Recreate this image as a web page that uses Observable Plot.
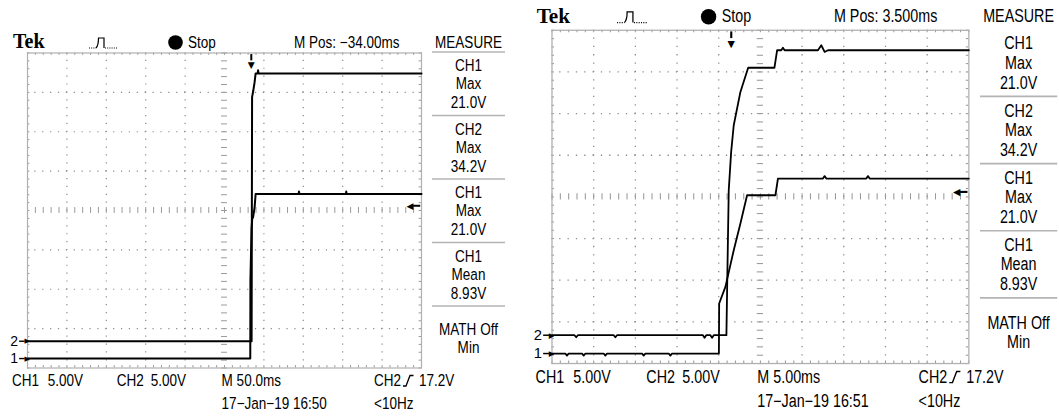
<!DOCTYPE html>
<html><head><meta charset="utf-8">
<script src="https://cdn.jsdelivr.net/npm/d3@7"></script>
<script src="https://cdn.jsdelivr.net/npm/@observablehq/plot@0.6"></script>
<style>
html,body{margin:0;padding:0;background:#fff;width:1059px;height:417px;overflow:hidden;position:relative;}
.scope{position:absolute;left:0;top:0;width:530px;height:420px;transform-origin:0 0;}
.scope svg{position:absolute;left:0;top:0;}
</style></head>
<body>
<div id="left" class="scope"></div>
<div id="right" class="scope" style="transform:translate(522.9px,-25.8px) scale(1.058);"></div>
<script>
// ---------- data (times in ms relative to trigger, values in volts) ----------
const leftCh1Time = [-284, -1.3, -1.1, 0.3, 1.3, 2.2, 4.2, 5.5, 60, 60.5, 61, 120, 120.5, 121, 216];
const leftCh1Volt = [0, 0, 9.9, 16.5, 17.9, 17.9, 19.2, 20.9, 20.9, 21.2, 20.9, 20.9, 21.2, 20.9, 20.9];
const leftCh2Time = [-284, 0.4, 1.0, 2.5, 4.2, 5.5, 8.0, 8.6, 9.2, 216];
const leftCh2Volt = [0, 0, 31.0, 31.8, 32.9, 34.0, 34.0, 34.4, 34.0, 34.0];

const rightCh1Time = [-21.5, -19.9, -19.7, -19.5, -17.9, -17.7, -17.5, -15.3, -15.1, -14.9, -10.7, -10.5, -10.3, -7.5, -7.3, -7.1, -1.48, -1.45, -0.70, 0.30, 1.10, 1.90, 5.30, 5.60, 11.0, 11.2, 11.4, 16.2, 16.4, 16.6, 28.5];
const rightCh1Volt = [0, 0, -0.25, 0, 0, -0.25, 0, 0, -0.25, 0, 0, -0.25, 0, 0, -0.25, 0, 0, 6.0, 8.0, 12.4, 15.6, 19.0, 19.0, 21.0, 21.0, 21.3, 21.0, 21.0, 21.3, 21.0, 21.0];
const rightCh2Time = [-21.5, -18.8, -18.6, -18.4, -14.1, -13.9, -13.7, -3.4, -3.2, -3.0, -2.5, -2.3, -2.1, -0.58, -0.49, -0.30, -0.01, 0.30, 1.10, 2.03, 5.18, 5.50, 6.0, 6.2, 6.4, 10.4, 10.8, 11.2, 11.6, 28.5];
const rightCh2Volt = [0, 0, -0.25, 0, 0, -0.25, 0, 0, -0.3, 0, 0, -0.3, 0, 0, 5.8, 17.4, 22.0, 25.2, 29.2, 32.1, 32.1, 34.2, 34.2, 34.5, 34.2, 34.2, 34.8, 34.0, 34.2, 34.2];

const channelNames = ["1", "2"];
const voltsPerDiv = [5, 5];
const groundDiv = [-3.76, -3.32];      // channel ground markers, divisions from centre
const triggerLevel = 17.2;             // CH2 rising edge
const leftTiming = {msPerDiv: 50, mpos: -34};
const rightTiming = {msPerDiv: 5, mpos: 3.5};

const leftHeader = ["Tek", "Stop", "M Pos: \u221234.00ms", "MEASURE"];
const rightHeader = ["Tek", "Stop", "M Pos: 3.500ms", "MEASURE"];
const measureBlocks = [["CH1", "Max", "21.0V"], ["CH2", "Max", "34.2V"], ["CH1", "Max", "21.0V"], ["CH1", "Mean", "8.93V"], ["MATH Off", "Min"]];
const leftFooter = ["CH1", "5.00V", "CH2", "5.00V", "M 50.0ms", "CH2", "17.2V", "17\u2212Jan\u221219 16:50", "<10Hz"];
const rightFooter = ["CH1", "5.00V", "CH2", "5.00V", "M 5.00ms", "CH2", "17.2V", "17\u2212Jan\u221219 16:51", "<10Hz"];

// ---------- drawing ----------
const FONT = '"Liberation Sans",Arial,sans-serif';
const SYM = '"DejaVu Sans",sans-serif';
const PXDIV = 39.4;
const NARROW = 0.82;

function toDiv(v, ch) { return v / voltsPerDiv[ch] + groundDiv[ch]; }

function scope(timing, ch1t, ch1v, ch2t, ch2v, lineW) {
  const tc = timing.mpos, md = timing.msPerDiv;
  const t0 = tc - 5 * md, t1 = tc + 5 * md;
  const minorT = d3.range(-25, 26).map(k => tc + k * md / 5);
  const minorY = d3.range(-20, 21).map(k => k / 5);
  const majorT = [-4, -3, -2, -1, 1, 2, 3, 4].map(k => tc + k * md);
  const majorY = [-3, -2, -1, 1, 2, 3];
  const tk = 0.075;
  const mp = PXDIV / 5;
  const dots = {stroke: "#8a8a8a", strokeWidth: 1.2, strokeDasharray: `1.2 ${mp - 1.2}`, strokeDashoffset: 0.6};
  const tick = {stroke: "#9a9a9a", strokeWidth: 1};
  const d1 = ch1t.map((t, i) => ({t, y: toDiv(ch1v[i], 0)}));
  const d2 = ch2t.map((t, i) => ({t, y: toDiv(ch2v[i], 1)}));
  const trigY = toDiv(triggerLevel, 1);
  return Plot.plot({
    width: 530, height: 420,
    marginLeft: 27, marginRight: 109, marginTop: 52.5, marginBottom: 52.5,
    x: {domain: [t0, t1], axis: null},
    y: {domain: [-4, 4], axis: null},
    style: {background: "transparent", overflow: "visible"},
    marks: [
      Plot.ruleX(majorT, dots),
      Plot.ruleY(majorY, dots),
      Plot.ruleX(minorT, {y1: -tk, y2: tk, ...tick}),
      Plot.ruleY(minorY, {x1: tc - tk * md, x2: tc + tk * md, ...tick}),
      Plot.ruleX(minorT, {y1: 4, y2: 4 - tk * 0.8, ...tick}),
      Plot.ruleX(minorT, {y1: -4, y2: -4 + tk * 0.8, ...tick}),
      Plot.ruleY(minorY, {x1: t0, x2: t0 + tk * 0.8 * md, ...tick}),
      Plot.ruleY(minorY, {x1: t1, x2: t1 - tk * 0.8 * md, ...tick}),
      Plot.frame({stroke: "#b0b0b0", strokeWidth: 1.2}),
      Plot.line(d2, {x: "t", y: "y", stroke: "#000", strokeWidth: lineW}),
      Plot.line(d1, {x: "t", y: "y", stroke: "#000", strokeWidth: lineW}),
      // channel ground markers
      Plot.text([0, 1], {frameAnchor: "left", y: d => toDiv(0, d), text: d => channelNames[d], dx: -9.5, textAnchor: "end", fontSize: 14, fontFamily: FONT, fill: "#000"}),
      Plot.ruleY([0, 1], {y: d => toDiv(0, d), x1: t0 - 0.2 * md, x2: t0 - 0.06 * md, stroke: "#000", strokeWidth: 1.4}),
      Plot.text([0, 1], {frameAnchor: "left", y: d => toDiv(0, d), text: () => "\u25B6", dx: -3, fontSize: 7, fontFamily: SYM, fill: "#000"}),
      // trigger level arrow
      Plot.ruleY([trigY], {x1: t1 - 0.2 * md, x2: t1 - 0.02 * md, stroke: "#000", strokeWidth: 2}),
      Plot.text([trigY], {frameAnchor: "right", y: d => d, text: () => "\u25C0", dx: -8, fontSize: 9, fontFamily: SYM, fill: "#000"}),
      // trigger position arrow
      Plot.ruleX([0], {y1: 3.96, y2: 3.8, stroke: "#000", strokeWidth: 2}),
      Plot.text([0], {x: d => d, frameAnchor: "top", text: () => "\u25BC", dy: 9, fontSize: 9, fontFamily: SYM, fill: "#000"})
    ]
  });
}

function label(svg, x, y, str, anchor) {
  svg.append("text").attr("transform", `translate(${x},${y}) scale(${NARROW},1)`)
    .attr("text-anchor", anchor || "start").text(str);
}

function overlay(el, header, footer, hy, topSep) {
  const svg = d3.select(el).append("svg").attr("width", 530).attr("height", 420)
    .attr("font-family", FONT).attr("font-size", 16.5).attr("fill", "#000");
  svg.append("text").attr("x", 13).attr("y", hy + 0.5)
    .attr("font-family", '"Liberation Serif","DejaVu Serif",serif').attr("font-weight", "bold").attr("font-size", 20).text(header[0]);
  // trigger-type icon
  const g = svg.append("g").attr("fill", "none").attr("stroke", "#000").attr("stroke-width", 1.2);
  g.append("path").attr("d", `M89,${hy + 0.5} H96`).attr("stroke-dasharray", "1 1.2");
  g.append("path").attr("d", `M96,${hy + 0.5} Q98.5,${hy - 2} 98.5,${hy - 9.5} H104 V${hy + 0.5}`);
  g.append("path").attr("d", `M105,${hy + 0.5} H118`).attr("stroke-dasharray", "1 1.2");
  svg.append("circle").attr("cx", 175.5).attr("cy", hy - 5).attr("r", 7.3).attr("fill", "#000");
  label(svg, 188, hy, header[1]);
  label(svg, 294, hy, header[2]);
  label(svg, 468.5, hy, header[3], "middle");
  // measurement column
  const seps = [52, 115.5, 179, 242.5, 306];
  seps.forEach((s, k) => {
    if (k > 0 || topSep) {
      svg.append("line").attr("x1", 432).attr("x2", 505).attr("y1", s).attr("y2", s)
        .attr("stroke", "#b4b4b4").attr("stroke-width", 1.6);
    }
    const rows = measureBlocks[k];
    const offs = rows.length === 3 ? [19, 37.3, 56.2] : [29, 47.3];
    rows.forEach((r, j) => label(svg, 468.5, s + offs[j], r, "middle"));
  });
  // footer
  const r1 = 386, r2 = 409;
  label(svg, 12, r1, footer[0]);
  label(svg, 83, r1, footer[1], "end");
  label(svg, 116.7, r1, footer[2]);
  label(svg, 186, r1, footer[3], "end");
  label(svg, 221.6, r1, footer[4]);
  label(svg, 374, r1, footer[5]);
  svg.append("path").attr("d", `M403,${r1} H406 L410,${r1 - 10.5} H413.5`).attr("fill", "none").attr("stroke", "#000").attr("stroke-width", 1.3);
  label(svg, 419, r1, footer[6]);
  label(svg, 221.6, r2, footer[7]);
  label(svg, 374, r2, footer[8]);
}

const L = document.getElementById("left");
L.appendChild(scope(leftTiming, leftCh1Time, leftCh1Volt, leftCh2Time, leftCh2Volt, 2));
overlay(L, leftHeader, leftFooter, 47.5, true);

const R = document.getElementById("right");
R.appendChild(scope(rightTiming, rightCh1Time, rightCh1Volt, rightCh2Time, rightCh2Volt, 1.7));
overlay(R, rightHeader, rightFooter, 45.2, false);
</script>
</body></html>
